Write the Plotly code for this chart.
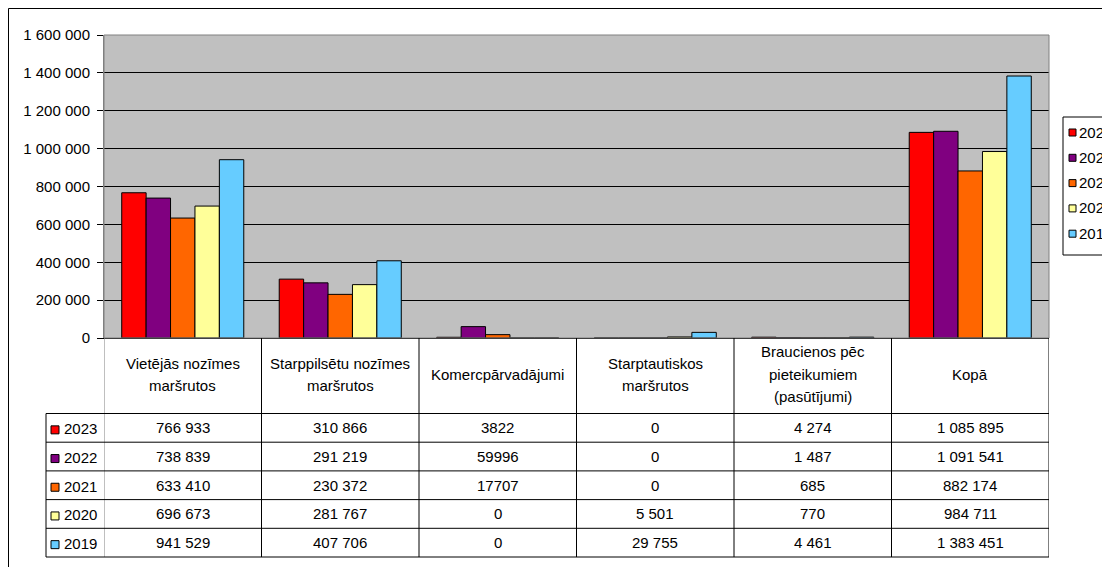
import plotly.graph_objects as go

# ---------------- data ----------------
categories = ["Vietējās nozīmes\nmaršrutos", "Starppilsētu nozīmes\nmaršrutos", "Komercpārvadājumi",
              "Starptautiskos\nmaršrutos", "Braucienos pēc\npieteikumiem\n(pasūtījumi)", "Kopā"]
years = ["2023", "2022", "2021", "2020", "2019"]
v2023 = [766933, 310866, 3822, 0, 4274, 1085895]
v2022 = [738839, 291219, 59996, 0, 1487, 1091541]
v2021 = [633410, 230372, 17707, 0, 685, 882174]
v2020 = [696673, 281767, 0, 5501, 770, 984711]
v2019 = [941529, 407706, 0, 29755, 4461, 1383451]
series = [v2023, v2022, v2021, v2020, v2019]
colors = ["#FF0000", "#800080", "#FF6600", "#FFFF99", "#66CCFF"]
grouped_format = [True, True, False, True, True, True]
y_ticks = [0, 200000, 400000, 600000, 800000, 1000000, 1200000, 1400000, 1600000]

# ---------------- layout geometry (window pixels) ----------------
WIN_W, WIN_H = 1110, 567
OFF = 8                      # default page body margin
W, H = WIN_W - OFF, WIN_H - OFF
L, R, T, B = 104, 1049, 35, 338
FONT = "Liberation Sans, Arial, sans-serif"
FS = 15


def px(xp):
    return (xp - L) / (R - L)


def py(yp):
    return (B - yp) / (B - T)


def fmt(v, grouped):
    return f"{v:,}".replace(",", " ") if grouped else str(v)


cat_keys = [c.replace("\n", " ") for c in categories]

fig = go.Figure()
for yr, vals, col in zip(years, series, colors):
    fig.add_trace(go.Bar(x=cat_keys, y=vals, name=yr,
                         marker=dict(color=col, line=dict(color="black", width=1)),
                         showlegend=False))

shapes = []
annotations = []

# plot area border (grey)
shapes.append(dict(type="rect", xref="paper", yref="paper", x0=0, x1=1, y0=0, y1=1,
                   line=dict(color="#808080", width=1), layer="above"))
# outer chart border
shapes.append(dict(type="line", xref="paper", yref="paper", x0=px(8.5), x1=px(1130), y0=py(8.5), y1=py(8.5),
                   line=dict(color="black", width=1)))
shapes.append(dict(type="line", xref="paper", yref="paper", x0=px(8.5), x1=px(8.5), y0=py(8.5), y1=py(590),
                   line=dict(color="black", width=1)))

# ---------------- data table ----------------
header_bottom = 413.5
table_bottom = 557
row_h = (table_bottom - header_bottom) / len(years)
n = len(categories)

# vertical column lines (category boundaries)
for i in range(n + 1):
    shapes.append(dict(type="line", xref="x", yref="paper", x0=i - 0.5, x1=i - 0.5,
                       y0=py(B), y1=py(table_bottom),
                       line=dict(color="#808080" if i == 0 else "black", width=1)))
# table left border
shapes.append(dict(type="line", xref="paper", yref="paper", x0=px(46), x1=px(46),
                   y0=py(header_bottom), y1=py(table_bottom), line=dict(color="black", width=1)))
# horizontal row lines
for r in range(len(years) + 1):
    yy = header_bottom + r * row_h
    shapes.append(dict(type="line", xref="paper", yref="paper", x0=px(46), x1=1,
                       y0=py(yy), y1=py(yy), line=dict(color="black", width=1)))

# header text
for i, cat in enumerate(categories):
    lines = cat.split("\n")
    k = len(lines)
    for j, ln in enumerate(lines):
        yc = 374 + (j - (k - 1) / 2) * 22
        annotations.append(dict(x=cat_keys[i], xref="x", y=py(yc), yref="paper", text=ln,
                                showarrow=False, xanchor="center", yanchor="middle",
                                font=dict(family=FONT, size=FS, color="black")))

# rows
for r, (yr, vals, col) in enumerate(zip(years, series, colors)):
    yc = header_bottom + (r + 0.5) * row_h
    shapes.append(dict(type="rect", xref="paper", yref="paper", x0=px(51), x1=px(59),
                       y0=py(yc - 2), y1=py(yc + 6), fillcolor=col,
                       line=dict(color="black", width=1)))
    annotations.append(dict(x=px(62), xref="paper", y=py(yc + 1), yref="paper", text=yr,
                            showarrow=False, xanchor="left", yanchor="middle",
                            font=dict(family=FONT, size=FS, color="black")))
    for i, v in enumerate(vals):
        annotations.append(dict(x=cat_keys[i], xref="x", y=py(yc), yref="paper",
                                text=fmt(v, grouped_format[i]),
                                showarrow=False, xanchor="center", yanchor="middle",
                                font=dict(family=FONT, size=FS, color="black")))

# ---------------- legend (right, cut by the window edge) ----------------
shapes.append(dict(type="rect", xref="paper", yref="paper", x0=px(1063), x1=px(1140),
                   y0=py(117), y1=py(255), fillcolor="white", line=dict(color="black", width=1)))
for r, (yr, col) in enumerate(zip(years, colors)):
    yc = 131 + r * 25.3
    shapes.append(dict(type="rect", xref="paper", yref="paper", x0=px(1069), x1=px(1076),
                       y0=py(yc - 2), y1=py(yc + 5), fillcolor=col,
                       line=dict(color="black", width=1)))
    annotations.append(dict(x=px(1077), xref="paper", y=py(yc + 1), yref="paper", text=yr,
                            showarrow=False, xanchor="left", yanchor="middle",
                            font=dict(family=FONT, size=FS, color="black")))

fig.update_layout(
    width=W, height=H,
    margin=dict(l=L - OFF, r=WIN_W - R, t=T - OFF, b=WIN_H - B, autoexpand=False),
    paper_bgcolor="white", plot_bgcolor="#C0C0C0",
    barmode="group", bargap=0.225, bargroupgap=0,
    separators=". ",
    showlegend=False,
    shapes=shapes, annotations=annotations,
    font=dict(family=FONT, size=FS, color="black"),
    xaxis=dict(type="category", range=[-0.5, n - 0.5], showticklabels=False, ticks="",
               showline=True, linecolor="black", linewidth=1, showgrid=False, zeroline=False,
               fixedrange=True),
    yaxis=dict(range=[0, 1600000], tickvals=y_ticks, tickformat=",d", ticks="outside",
               ticklen=6, tickcolor="black", tickwidth=1,
               showline=True, linecolor="#808080", linewidth=1,
               showgrid=True, gridcolor="black", gridwidth=1, zeroline=False,
               tickfont=dict(family=FONT, size=FS, color="black"), ticklabelstandoff=4,
               fixedrange=True),
)

fig.write_html("out.html")
